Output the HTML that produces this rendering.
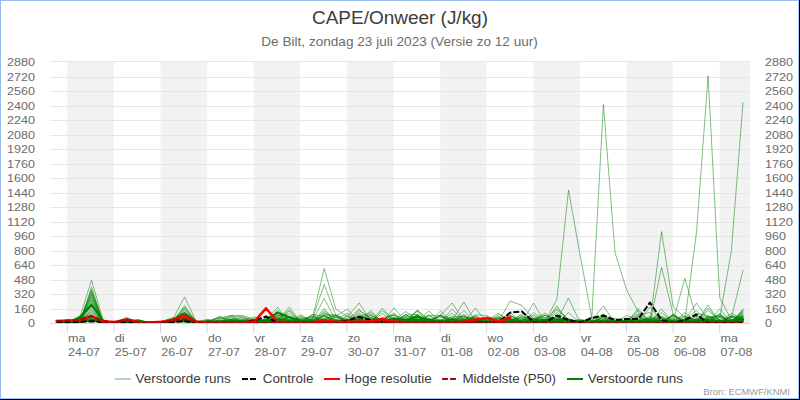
<!DOCTYPE html><html><head><meta charset="utf-8"><style>html,body{margin:0;padding:0;background:#fff;overflow:hidden}svg{display:block}text{font-family:"Liberation Sans",sans-serif}</style></head><body>
<svg width="800" height="400" viewBox="0 0 800 400">
<rect x="0" y="0" width="800" height="400" fill="#fff"/>
<rect x="67.30" y="61.5" width="46.60" height="262.0" fill="#f2f2f2"/>
<rect x="160.50" y="61.5" width="46.60" height="262.0" fill="#f2f2f2"/>
<rect x="253.70" y="61.5" width="46.60" height="262.0" fill="#f2f2f2"/>
<rect x="346.90" y="61.5" width="46.60" height="262.0" fill="#f2f2f2"/>
<rect x="440.10" y="61.5" width="46.60" height="262.0" fill="#f2f2f2"/>
<rect x="533.30" y="61.5" width="46.60" height="262.0" fill="#f2f2f2"/>
<rect x="626.50" y="61.5" width="46.60" height="262.0" fill="#f2f2f2"/>
<rect x="719.70" y="61.5" width="30.30" height="262.0" fill="#f2f2f2"/>
<rect x="50" y="323" width="700" height="1" fill="#e6e6e6"/>
<rect x="50" y="309" width="700" height="1" fill="#e6e6e6"/>
<rect x="50" y="294" width="700" height="1" fill="#e6e6e6"/>
<rect x="50" y="280" width="700" height="1" fill="#e6e6e6"/>
<rect x="50" y="265" width="700" height="1" fill="#e6e6e6"/>
<rect x="50" y="251" width="700" height="1" fill="#e6e6e6"/>
<rect x="50" y="236" width="700" height="1" fill="#e6e6e6"/>
<rect x="50" y="222" width="700" height="1" fill="#e6e6e6"/>
<rect x="50" y="207" width="700" height="1" fill="#e6e6e6"/>
<rect x="50" y="193" width="700" height="1" fill="#e6e6e6"/>
<rect x="50" y="178" width="700" height="1" fill="#e6e6e6"/>
<rect x="50" y="164" width="700" height="1" fill="#e6e6e6"/>
<rect x="50" y="149" width="700" height="1" fill="#e6e6e6"/>
<rect x="50" y="135" width="700" height="1" fill="#e6e6e6"/>
<rect x="50" y="120" width="700" height="1" fill="#e6e6e6"/>
<rect x="50" y="106" width="700" height="1" fill="#e6e6e6"/>
<rect x="50" y="91" width="700" height="1" fill="#e6e6e6"/>
<rect x="50" y="77" width="700" height="1" fill="#e6e6e6"/>
<rect x="50" y="61" width="700" height="1" fill="#e6e6e6"/>
<text x="28.00" y="327.00" font-size="11.33" fill="#6c6c6c" textLength="7.00" lengthAdjust="spacingAndGlyphs">0</text>
<text x="765.00" y="327.00" font-size="11.33" fill="#6c6c6c" textLength="7.00" lengthAdjust="spacingAndGlyphs">0</text>
<text x="14.00" y="313.00" font-size="11.33" fill="#6c6c6c" textLength="21.00" lengthAdjust="spacingAndGlyphs">160</text>
<text x="765.00" y="313.00" font-size="11.33" fill="#6c6c6c" textLength="21.00" lengthAdjust="spacingAndGlyphs">160</text>
<text x="14.00" y="298.00" font-size="11.33" fill="#6c6c6c" textLength="21.00" lengthAdjust="spacingAndGlyphs">320</text>
<text x="765.00" y="298.00" font-size="11.33" fill="#6c6c6c" textLength="21.00" lengthAdjust="spacingAndGlyphs">320</text>
<text x="14.00" y="284.00" font-size="11.33" fill="#6c6c6c" textLength="21.00" lengthAdjust="spacingAndGlyphs">480</text>
<text x="765.00" y="284.00" font-size="11.33" fill="#6c6c6c" textLength="21.00" lengthAdjust="spacingAndGlyphs">480</text>
<text x="14.00" y="269.00" font-size="11.33" fill="#6c6c6c" textLength="21.00" lengthAdjust="spacingAndGlyphs">640</text>
<text x="765.00" y="269.00" font-size="11.33" fill="#6c6c6c" textLength="21.00" lengthAdjust="spacingAndGlyphs">640</text>
<text x="14.00" y="255.00" font-size="11.33" fill="#6c6c6c" textLength="21.00" lengthAdjust="spacingAndGlyphs">800</text>
<text x="765.00" y="255.00" font-size="11.33" fill="#6c6c6c" textLength="21.00" lengthAdjust="spacingAndGlyphs">800</text>
<text x="14.00" y="240.00" font-size="11.33" fill="#6c6c6c" textLength="21.00" lengthAdjust="spacingAndGlyphs">960</text>
<text x="765.00" y="240.00" font-size="11.33" fill="#6c6c6c" textLength="21.00" lengthAdjust="spacingAndGlyphs">960</text>
<text x="7.01" y="226.00" font-size="11.33" fill="#6c6c6c" textLength="27.99" lengthAdjust="spacingAndGlyphs">1120</text>
<text x="765.00" y="226.00" font-size="11.33" fill="#6c6c6c" textLength="27.99" lengthAdjust="spacingAndGlyphs">1120</text>
<text x="7.01" y="211.00" font-size="11.33" fill="#6c6c6c" textLength="27.99" lengthAdjust="spacingAndGlyphs">1280</text>
<text x="765.00" y="211.00" font-size="11.33" fill="#6c6c6c" textLength="27.99" lengthAdjust="spacingAndGlyphs">1280</text>
<text x="7.01" y="197.00" font-size="11.33" fill="#6c6c6c" textLength="27.99" lengthAdjust="spacingAndGlyphs">1440</text>
<text x="765.00" y="197.00" font-size="11.33" fill="#6c6c6c" textLength="27.99" lengthAdjust="spacingAndGlyphs">1440</text>
<text x="7.01" y="182.00" font-size="11.33" fill="#6c6c6c" textLength="27.99" lengthAdjust="spacingAndGlyphs">1600</text>
<text x="765.00" y="182.00" font-size="11.33" fill="#6c6c6c" textLength="27.99" lengthAdjust="spacingAndGlyphs">1600</text>
<text x="7.01" y="168.00" font-size="11.33" fill="#6c6c6c" textLength="27.99" lengthAdjust="spacingAndGlyphs">1760</text>
<text x="765.00" y="168.00" font-size="11.33" fill="#6c6c6c" textLength="27.99" lengthAdjust="spacingAndGlyphs">1760</text>
<text x="7.01" y="153.00" font-size="11.33" fill="#6c6c6c" textLength="27.99" lengthAdjust="spacingAndGlyphs">1920</text>
<text x="765.00" y="153.00" font-size="11.33" fill="#6c6c6c" textLength="27.99" lengthAdjust="spacingAndGlyphs">1920</text>
<text x="7.01" y="139.00" font-size="11.33" fill="#6c6c6c" textLength="27.99" lengthAdjust="spacingAndGlyphs">2080</text>
<text x="765.00" y="139.00" font-size="11.33" fill="#6c6c6c" textLength="27.99" lengthAdjust="spacingAndGlyphs">2080</text>
<text x="7.01" y="124.00" font-size="11.33" fill="#6c6c6c" textLength="27.99" lengthAdjust="spacingAndGlyphs">2240</text>
<text x="765.00" y="124.00" font-size="11.33" fill="#6c6c6c" textLength="27.99" lengthAdjust="spacingAndGlyphs">2240</text>
<text x="7.01" y="110.00" font-size="11.33" fill="#6c6c6c" textLength="27.99" lengthAdjust="spacingAndGlyphs">2400</text>
<text x="765.00" y="110.00" font-size="11.33" fill="#6c6c6c" textLength="27.99" lengthAdjust="spacingAndGlyphs">2400</text>
<text x="7.01" y="95.00" font-size="11.33" fill="#6c6c6c" textLength="27.99" lengthAdjust="spacingAndGlyphs">2560</text>
<text x="765.00" y="95.00" font-size="11.33" fill="#6c6c6c" textLength="27.99" lengthAdjust="spacingAndGlyphs">2560</text>
<text x="7.01" y="81.00" font-size="11.33" fill="#6c6c6c" textLength="27.99" lengthAdjust="spacingAndGlyphs">2720</text>
<text x="765.00" y="81.00" font-size="11.33" fill="#6c6c6c" textLength="27.99" lengthAdjust="spacingAndGlyphs">2720</text>
<text x="7.01" y="66.00" font-size="11.33" fill="#6c6c6c" textLength="27.99" lengthAdjust="spacingAndGlyphs">2880</text>
<text x="765.00" y="66.00" font-size="11.33" fill="#6c6c6c" textLength="27.99" lengthAdjust="spacingAndGlyphs">2880</text>
<g fill="none" stroke-linejoin="round" stroke-linecap="round">
<polyline points="56.60,323.05 68.23,321.00 79.87,322.11 91.50,317.13 103.14,321.90 114.77,323.04 126.40,320.89 138.04,322.43 149.67,322.04 161.31,322.66 172.94,320.20 184.57,318.51 196.21,322.11 207.84,322.48 219.48,322.57 231.11,322.03 242.74,322.24 254.38,320.27 266.01,321.83 277.65,321.88 289.28,319.83 300.91,319.74 312.55,316.22 324.18,322.44 335.82,322.59 347.45,321.64 359.08,319.47 370.72,317.39 382.35,322.56 393.99,321.45 405.62,321.60 417.25,319.11 428.89,321.80 440.52,315.54 452.16,322.28 463.79,315.19 475.42,322.45 487.06,322.89 498.69,321.75 510.33,315.68 521.96,322.09 533.59,321.77 545.23,321.24 556.86,299.48 568.50,190.13 580.13,255.27 591.76,318.04 603.40,104.62 615.03,252.63 626.67,290.02 638.30,312.04 649.93,322.10 661.57,321.80 673.20,322.98 684.84,321.97 696.47,319.94 708.10,322.54 719.74,319.90 731.37,322.58 743.01,318.04" stroke="rgba(0,128,0,0.5)" stroke-width="1"/>
<polyline points="56.60,323.04 68.23,322.00 79.87,322.13 91.50,310.31 103.14,322.59 114.77,323.05 126.40,322.04 138.04,321.39 149.67,322.50 161.31,322.32 172.94,321.68 184.57,321.52 196.21,322.59 207.84,322.55 219.48,322.59 231.11,322.50 242.74,322.58 254.38,322.17 266.01,321.24 277.65,319.48 289.28,322.09 300.91,316.15 312.55,320.19 324.18,322.49 335.82,322.59 347.45,322.57 359.08,318.81 370.72,315.74 382.35,320.05 393.99,322.59 405.62,321.88 417.25,321.44 428.89,322.21 440.52,321.13 452.16,322.14 463.79,317.08 475.42,318.82 487.06,320.43 498.69,313.04 510.33,322.27 521.96,319.05 533.59,322.13 545.23,320.62 556.86,322.34 568.50,321.47 580.13,321.94 591.76,322.87 603.40,314.04 615.03,322.67 626.67,322.99 638.30,308.49 649.93,322.59 661.57,231.62 673.20,307.12 684.84,317.31 696.47,320.15 708.10,320.00 719.74,322.49 731.37,316.39 743.01,319.10" stroke="rgba(0,128,0,0.5)" stroke-width="1"/>
<polyline points="56.60,323.05 68.23,321.32 79.87,321.57 91.50,291.02 103.14,321.84 114.77,323.04 126.40,320.62 138.04,321.43 149.67,322.77 161.31,322.30 172.94,321.31 184.57,321.61 196.21,322.33 207.84,322.63 219.48,321.86 231.11,322.57 242.74,321.44 254.38,322.10 266.01,321.54 277.65,322.44 289.28,322.32 300.91,322.59 312.55,321.73 324.18,322.39 335.82,322.58 347.45,319.79 359.08,322.57 370.72,322.59 382.35,320.10 393.99,322.47 405.62,322.45 417.25,318.68 428.89,320.31 440.52,320.70 452.16,322.41 463.79,322.55 475.42,314.87 487.06,315.57 498.69,322.27 510.33,320.49 521.96,322.35 533.59,318.60 545.23,322.38 556.86,322.50 568.50,319.87 580.13,323.03 591.76,323.03 603.40,320.79 615.03,322.15 626.67,323.05 638.30,321.63 649.93,319.54 661.57,321.86 673.20,323.04 684.84,320.77 696.47,232.53 708.10,75.87 719.74,297.57 731.37,319.86 743.01,319.54" stroke="rgba(0,128,0,0.5)" stroke-width="1"/>
<polyline points="56.60,322.99 68.23,322.77 79.87,319.25 91.50,320.52 103.14,322.01 114.77,323.00 126.40,322.13 138.04,322.37 149.67,322.76 161.31,322.67 172.94,321.64 184.57,321.62 196.21,321.49 207.84,319.41 219.48,322.59 231.11,322.21 242.74,322.48 254.38,321.87 266.01,320.75 277.65,321.67 289.28,322.58 300.91,321.80 312.55,316.74 324.18,319.44 335.82,322.59 347.45,320.12 359.08,319.89 370.72,322.59 382.35,321.96 393.99,321.34 405.62,320.91 417.25,321.45 428.89,322.59 440.52,319.27 452.16,321.93 463.79,318.71 475.42,318.12 487.06,322.83 498.69,323.04 510.33,319.80 521.96,317.74 533.59,322.57 545.23,322.12 556.86,320.15 568.50,320.51 580.13,322.27 591.76,322.72 603.40,322.26 615.03,323.01 626.67,321.55 638.30,321.52 649.93,322.47 661.57,309.04 673.20,323.00 684.84,320.96 696.47,322.03 708.10,320.03 719.74,318.04 731.37,250.72 743.01,102.71" stroke="rgba(0,128,0,0.5)" stroke-width="1"/>
<polyline points="56.60,322.45 68.23,321.53 79.87,321.97 91.50,319.35 103.14,321.60 114.77,323.04 126.40,321.76 138.04,322.74 149.67,322.75 161.31,322.46 172.94,321.11 184.57,321.65 196.21,322.74 207.84,323.04 219.48,321.67 231.11,320.90 242.74,321.81 254.38,322.29 266.01,321.28 277.65,321.88 289.28,321.68 300.91,321.92 312.55,319.87 324.18,322.50 335.82,319.57 347.45,321.88 359.08,322.44 370.72,314.65 382.35,322.59 393.99,322.13 405.62,322.28 417.25,320.37 428.89,315.76 440.52,322.22 452.16,322.57 463.79,314.40 475.42,322.18 487.06,323.03 498.69,320.77 510.33,301.03 521.96,305.49 533.59,318.95 545.23,321.50 556.86,310.04 568.50,319.38 580.13,321.55 591.76,322.90 603.40,316.92 615.03,322.47 626.67,322.43 638.30,321.14 649.93,322.59 661.57,321.99 673.20,323.04 684.84,321.88 696.47,322.58 708.10,318.85 719.74,320.93 731.37,320.22 743.01,319.99" stroke="rgba(0,128,0,0.5)" stroke-width="1"/>
<polyline points="56.60,321.57 68.23,322.70 79.87,316.68 91.50,320.18 103.14,322.46 114.77,323.04 126.40,322.09 138.04,322.73 149.67,322.30 161.31,322.51 172.94,321.53 184.57,321.66 196.21,322.73 207.84,321.68 219.48,318.04 231.11,315.40 242.74,315.40 254.38,319.86 266.01,321.25 277.65,318.62 289.28,322.58 300.91,314.45 312.55,322.38 324.18,322.39 335.82,322.57 347.45,320.55 359.08,321.19 370.72,322.56 382.35,319.54 393.99,319.99 405.62,316.34 417.25,316.62 428.89,320.77 440.52,315.38 452.16,318.63 463.79,316.77 475.42,320.23 487.06,323.04 498.69,321.72 510.33,322.47 521.96,321.83 533.59,321.68 545.23,322.19 556.86,320.47 568.50,322.59 580.13,321.47 591.76,321.84 603.40,321.87 615.03,321.79 626.67,322.57 638.30,322.59 649.93,321.22 661.57,322.47 673.20,322.59 684.84,322.91 696.47,318.20 708.10,322.59 719.74,320.59 731.37,322.05 743.01,318.88" stroke="rgba(0,128,0,0.5)" stroke-width="1"/>
<polyline points="56.60,322.51 68.23,319.50 79.87,322.10 91.50,318.80 103.14,322.55 114.77,322.79 126.40,321.25 138.04,322.34 149.67,322.55 161.31,322.03 172.94,321.01 184.57,321.51 196.21,322.77 207.84,322.14 219.48,319.41 231.11,316.22 242.74,316.68 254.38,320.77 266.01,322.49 277.65,322.47 289.28,320.30 300.91,321.51 312.55,321.96 324.18,316.50 335.82,321.41 347.45,322.58 359.08,321.04 370.72,321.45 382.35,319.85 393.99,322.25 405.62,322.54 417.25,322.14 428.89,322.58 440.52,321.90 452.16,316.74 463.79,322.59 475.42,320.54 487.06,321.00 498.69,323.04 510.33,320.70 521.96,320.69 533.59,319.29 545.23,317.45 556.86,320.60 568.50,321.36 580.13,322.83 591.76,322.80 603.40,322.26 615.03,322.99 626.67,322.83 638.30,322.37 649.93,320.52 661.57,322.59 673.20,322.47 684.84,319.86 696.47,320.22 708.10,322.53 719.74,322.38 731.37,322.59 743.01,313.49" stroke="rgba(0,128,0,0.5)" stroke-width="1"/>
<polyline points="56.60,322.94 68.23,322.16 79.87,322.13 91.50,319.54 103.14,321.81 114.77,322.22 126.40,320.62 138.04,322.77 149.67,322.69 161.31,322.77 172.94,320.64 184.57,321.40 196.21,322.40 207.84,322.97 219.48,322.53 231.11,322.58 242.74,322.47 254.38,322.23 266.01,321.34 277.65,322.59 289.28,320.89 300.91,322.07 312.55,321.65 324.18,320.52 335.82,321.80 347.45,321.56 359.08,322.47 370.72,322.54 382.35,322.45 393.99,322.55 405.62,322.39 417.25,322.13 428.89,318.25 440.52,322.59 452.16,322.58 463.79,310.49 475.42,322.27 487.06,322.94 498.69,322.62 510.33,322.51 521.96,322.59 533.59,320.24 545.23,315.48 556.86,322.57 568.50,322.38 580.13,322.87 591.76,322.77 603.40,322.58 615.03,321.95 626.67,323.03 638.30,316.47 649.93,323.05 661.57,267.37 673.20,314.31 684.84,321.40 696.47,321.21 708.10,310.49 719.74,320.53 731.37,322.59 743.01,317.86" stroke="rgba(0,128,0,0.5)" stroke-width="1"/>
<polyline points="56.60,322.59 68.23,322.23 79.87,322.06 91.50,289.66 103.14,322.59 114.77,323.04 126.40,321.83 138.04,322.31 149.67,322.56 161.31,322.09 172.94,319.13 184.57,317.44 196.21,322.76 207.84,322.57 219.48,322.58 231.11,319.58 242.74,317.50 254.38,322.44 266.01,322.58 277.65,318.92 289.28,318.83 300.91,321.94 312.55,321.49 324.18,312.04 335.82,322.58 347.45,315.13 359.08,322.50 370.72,322.50 382.35,322.59 393.99,318.29 405.62,322.36 417.25,322.13 428.89,322.04 440.52,322.57 452.16,322.57 463.79,322.59 475.42,321.96 487.06,322.05 498.69,317.66 510.33,319.92 521.96,315.23 533.59,322.49 545.23,322.25 556.86,320.91 568.50,321.97 580.13,321.36 591.76,322.99 603.40,317.09 615.03,323.02 626.67,322.14 638.30,321.70 649.93,322.17 661.57,316.58 673.20,320.77 684.84,278.38 696.47,318.04 708.10,322.05 719.74,322.53 731.37,322.57 743.01,320.22" stroke="rgba(0,128,0,0.5)" stroke-width="1"/>
<polyline points="56.60,321.18 68.23,320.70 79.87,322.09 91.50,318.91 103.14,322.56 114.77,323.01 126.40,322.06 138.04,322.77 149.67,322.76 161.31,322.54 172.94,321.66 184.57,320.57 196.21,322.77 207.84,320.82 219.48,322.52 231.11,322.36 242.74,320.76 254.38,320.12 266.01,319.94 277.65,320.36 289.28,307.22 300.91,322.37 312.55,318.04 324.18,268.46 335.82,309.04 347.45,316.50 359.08,303.03 370.72,320.73 382.35,319.75 393.99,321.91 405.62,321.76 417.25,322.06 428.89,322.58 440.52,321.23 452.16,321.71 463.79,320.06 475.42,321.77 487.06,322.95 498.69,322.43 510.33,320.01 521.96,322.58 533.59,321.47 545.23,321.98 556.86,319.60 568.50,321.80 580.13,321.38 591.76,323.04 603.40,319.78 615.03,319.86 626.67,322.94 638.30,322.37 649.93,322.53 661.57,321.41 673.20,314.80 684.84,320.88 696.47,322.56 708.10,322.48 719.74,322.53 731.37,322.20 743.01,315.31" stroke="rgba(0,128,0,0.5)" stroke-width="1"/>
<polyline points="56.60,323.04 68.23,321.69 79.87,319.85 91.50,297.03 103.14,322.01 114.77,322.86 126.40,322.08 138.04,320.96 149.67,322.33 161.31,322.76 172.94,321.65 184.57,320.01 196.21,322.74 207.84,322.44 219.48,319.84 231.11,322.18 242.74,321.70 254.38,321.96 266.01,322.56 277.65,321.81 289.28,322.45 300.91,319.67 312.55,318.95 324.18,284.47 335.82,315.31 347.45,320.95 359.08,322.58 370.72,310.49 382.35,322.59 393.99,322.59 405.62,315.08 417.25,319.36 428.89,321.23 440.52,315.31 452.16,322.23 463.79,321.67 475.42,322.59 487.06,322.15 498.69,321.52 510.33,321.45 521.96,322.28 533.59,321.43 545.23,322.59 556.86,322.59 568.50,321.29 580.13,323.05 591.76,321.32 603.40,318.41 615.03,322.95 626.67,323.04 638.30,322.46 649.93,321.23 661.57,321.51 673.20,322.22 684.84,320.08 696.47,322.03 708.10,319.27 719.74,322.47 731.37,321.65 743.01,309.85" stroke="rgba(0,128,0,0.5)" stroke-width="1"/>
<polyline points="56.60,320.23 68.23,322.46 79.87,317.13 91.50,280.20 103.14,320.23 114.77,322.98 126.40,321.14 138.04,322.71 149.67,322.77 161.31,322.77 172.94,321.60 184.57,321.54 196.21,322.68 207.84,319.86 219.48,322.58 231.11,321.81 242.74,322.45 254.38,320.57 266.01,322.55 277.65,322.52 289.28,316.16 300.91,322.57 312.55,321.86 324.18,315.66 335.82,322.02 347.45,322.42 359.08,321.49 370.72,319.62 382.35,320.21 393.99,313.04 405.62,321.85 417.25,321.62 428.89,321.29 440.52,322.57 452.16,319.78 463.79,321.91 475.42,322.59 487.06,322.88 498.69,323.03 510.33,320.65 521.96,316.59 533.59,321.23 545.23,320.27 556.86,316.67 568.50,321.60 580.13,322.97 591.76,322.72 603.40,319.85 615.03,321.85 626.67,320.55 638.30,322.52 649.93,321.14 661.57,322.59 673.20,314.31 684.84,322.95 696.47,313.49 708.10,315.58 719.74,322.30 731.37,321.64 743.01,317.13" stroke="rgba(0,128,0,0.5)" stroke-width="1"/>
<polyline points="56.60,322.86 68.23,322.77 79.87,321.83 91.50,306.22 103.14,321.62 114.77,322.92 126.40,322.01 138.04,322.77 149.67,322.77 161.31,322.53 172.94,318.95 184.57,296.94 196.21,321.23 207.84,321.56 219.48,322.24 231.11,319.47 242.74,321.21 254.38,322.51 266.01,322.19 277.65,317.50 289.28,322.27 300.91,322.57 312.55,318.96 324.18,319.24 335.82,321.39 347.45,322.27 359.08,317.82 370.72,322.48 382.35,313.49 393.99,321.62 405.62,321.66 417.25,316.81 428.89,321.65 440.52,322.56 452.16,309.04 463.79,320.90 475.42,322.05 487.06,322.82 498.69,322.30 510.33,321.13 521.96,321.49 533.59,312.58 545.23,320.61 556.86,322.40 568.50,319.12 580.13,323.05 591.76,321.78 603.40,322.10 615.03,323.01 626.67,322.57 638.30,322.10 649.93,320.90 661.57,319.99 673.20,322.81 684.84,323.02 696.47,322.58 708.10,320.70 719.74,321.34 731.37,322.57 743.01,311.67" stroke="rgba(0,128,0,0.5)" stroke-width="1"/>
<polyline points="56.60,322.68 68.23,321.83 79.87,322.13 91.50,319.86 103.14,322.58 114.77,322.53 126.40,322.06 138.04,322.77 149.67,322.34 161.31,322.49 172.94,319.91 184.57,320.21 196.21,322.51 207.84,322.81 219.48,320.52 231.11,322.40 242.74,322.47 254.38,321.04 266.01,322.55 277.65,320.95 289.28,316.54 300.91,320.39 312.55,321.97 324.18,321.98 335.82,320.68 347.45,322.55 359.08,310.49 370.72,317.84 382.35,319.34 393.99,321.23 405.62,319.50 417.25,319.50 428.89,322.58 440.52,322.36 452.16,318.85 463.79,320.09 475.42,322.55 487.06,318.64 498.69,317.13 510.33,322.59 521.96,322.59 533.59,319.93 545.23,315.31 556.86,319.28 568.50,319.57 580.13,322.27 591.76,322.86 603.40,314.56 615.03,323.04 626.67,322.34 638.30,322.30 649.93,322.39 661.57,322.41 673.20,316.22 684.84,323.02 696.47,322.30 708.10,320.50 719.74,320.80 731.37,318.04 743.01,270.28" stroke="rgba(0,128,0,0.5)" stroke-width="1"/>
<polyline points="56.60,322.32 68.23,322.75 79.87,321.65 91.50,319.36 103.14,322.46 114.77,323.05 126.40,321.74 138.04,322.34 149.67,322.77 161.31,322.63 172.94,321.66 184.57,320.88 196.21,322.60 207.84,322.88 219.48,322.47 231.11,319.50 242.74,320.51 254.38,322.54 266.01,322.47 277.65,322.29 289.28,321.15 300.91,321.48 312.55,322.49 324.18,319.93 335.82,320.80 347.45,322.53 359.08,322.58 370.72,321.99 382.35,322.59 393.99,321.24 405.62,314.79 417.25,314.40 428.89,320.75 440.52,322.53 452.16,318.88 463.79,322.34 475.42,322.57 487.06,323.03 498.69,319.88 510.33,322.56 521.96,320.01 533.59,319.32 545.23,321.60 556.86,322.19 568.50,322.37 580.13,323.03 591.76,323.04 603.40,320.13 615.03,321.17 626.67,320.99 638.30,313.49 649.93,322.58 661.57,322.44 673.20,315.89 684.84,321.66 696.47,322.58 708.10,317.78 719.74,316.44 731.37,320.03 743.01,319.05" stroke="rgba(0,128,0,0.5)" stroke-width="1"/>
<polyline points="56.60,323.03 68.23,321.69 79.87,322.13 91.50,320.77 103.14,322.57 114.77,322.87 126.40,318.77 138.04,322.75 149.67,322.77 161.31,322.70 172.94,321.11 184.57,320.95 196.21,322.75 207.84,322.78 219.48,321.68 231.11,321.84 242.74,320.95 254.38,319.91 266.01,322.49 277.65,315.48 289.28,320.91 300.91,321.19 312.55,321.81 324.18,322.59 335.82,320.15 347.45,322.18 359.08,322.36 370.72,321.38 382.35,322.22 393.99,317.18 405.62,321.87 417.25,315.40 428.89,322.59 440.52,311.04 452.16,321.89 463.79,319.35 475.42,322.56 487.06,322.37 498.69,321.44 510.33,312.58 521.96,322.43 533.59,320.68 545.23,322.58 556.86,322.37 568.50,322.06 580.13,319.04 591.76,321.98 603.40,321.47 615.03,322.97 626.67,322.46 638.30,322.41 649.93,307.03 661.57,321.79 673.20,323.03 684.84,319.07 696.47,319.51 708.10,322.51 719.74,322.59 731.37,322.41 743.01,318.65" stroke="rgba(0,128,0,0.5)" stroke-width="1"/>
<polyline points="56.60,322.56 68.23,322.76 79.87,322.12 91.50,298.48 103.14,322.20 114.77,322.59 126.40,322.05 138.04,322.30 149.67,322.75 161.31,322.28 172.94,321.61 184.57,317.61 196.21,322.77 207.84,322.73 219.48,322.59 231.11,322.58 242.74,322.58 254.38,321.68 266.01,319.94 277.65,307.22 289.28,321.81 300.91,322.49 312.55,322.59 324.18,321.50 335.82,322.59 347.45,322.56 359.08,320.81 370.72,322.58 382.35,319.62 393.99,318.55 405.62,322.28 417.25,322.14 428.89,322.49 440.52,322.44 452.16,322.17 463.79,320.02 475.42,321.97 487.06,323.05 498.69,323.00 510.33,322.37 521.96,322.57 533.59,319.84 545.23,314.85 556.86,322.17 568.50,320.19 580.13,321.67 591.76,323.04 603.40,322.54 615.03,322.35 626.67,323.05 638.30,321.25 649.93,322.17 661.57,320.32 673.20,323.00 684.84,323.01 696.47,322.59 708.10,322.54 719.74,322.54 731.37,322.55 743.01,321.68" stroke="rgba(0,128,0,0.5)" stroke-width="1"/>
<polyline points="56.60,323.05 68.23,321.95 79.87,322.14 91.50,319.64 103.14,321.90 114.77,322.76 126.40,317.50 138.04,321.57 149.67,322.75 161.31,321.73 172.94,321.20 184.57,321.06 196.21,321.88 207.84,323.02 219.48,320.49 231.11,321.84 242.74,322.59 254.38,322.18 266.01,322.45 277.65,315.93 289.28,314.04 300.91,320.78 312.55,322.58 324.18,322.28 335.82,321.93 347.45,321.07 359.08,322.58 370.72,321.10 382.35,318.57 393.99,315.31 405.62,320.88 417.25,320.15 428.89,321.40 440.52,322.57 452.16,321.40 463.79,322.00 475.42,321.99 487.06,321.37 498.69,322.26 510.33,322.32 521.96,321.92 533.59,319.63 545.23,322.57 556.86,321.89 568.50,322.12 580.13,321.25 591.76,322.67 603.40,322.58 615.03,323.04 626.67,315.31 638.30,320.52 649.93,322.52 661.57,322.45 673.20,322.99 684.84,322.25 696.47,322.16 708.10,318.61 719.74,322.57 731.37,316.16 743.01,316.83" stroke="rgba(0,128,0,0.5)" stroke-width="1"/>
<polyline points="56.60,323.03 68.23,322.77 79.87,321.59 91.50,319.13 103.14,322.18 114.77,322.94 126.40,322.12 138.04,321.67 149.67,322.77 161.31,322.36 172.94,321.55 184.57,321.65 196.21,322.77 207.84,320.84 219.48,322.42 231.11,322.56 242.74,322.56 254.38,322.58 266.01,320.72 277.65,322.33 289.28,321.98 300.91,322.57 312.55,322.39 324.18,321.83 335.82,317.13 347.45,321.69 359.08,321.91 370.72,322.49 382.35,310.49 393.99,320.20 405.62,311.49 417.25,319.66 428.89,322.56 440.52,322.54 452.16,320.05 463.79,320.58 475.42,318.04 487.06,323.00 498.69,322.93 510.33,320.04 521.96,322.01 533.59,321.77 545.23,322.55 556.86,322.59 568.50,312.58 580.13,323.02 591.76,322.48 603.40,322.55 615.03,323.03 626.67,323.02 638.30,315.80 649.93,322.44 661.57,322.56 673.20,322.13 684.84,322.65 696.47,322.45 708.10,321.68 719.74,321.92 731.37,322.32 743.01,316.22" stroke="rgba(0,128,0,0.5)" stroke-width="1"/>
<polyline points="56.60,322.63 68.23,322.77 79.87,322.01 91.50,318.83 103.14,322.53 114.77,322.48 126.40,318.04 138.04,322.64 149.67,322.45 161.31,322.77 172.94,321.36 184.57,321.49 196.21,320.95 207.84,322.94 219.48,322.43 231.11,322.51 242.74,322.07 254.38,322.58 266.01,322.43 277.65,320.80 289.28,322.26 300.91,322.56 312.55,314.42 324.18,316.81 335.82,321.83 347.45,322.33 359.08,314.40 370.72,322.53 382.35,321.75 393.99,322.02 405.62,317.68 417.25,320.91 428.89,318.15 440.52,322.07 452.16,318.64 463.79,322.53 475.42,322.58 487.06,322.46 498.69,322.87 510.33,322.26 521.96,322.57 533.59,319.15 545.23,319.44 556.86,308.49 568.50,319.18 580.13,321.69 591.76,323.00 603.40,322.29 615.03,322.36 626.67,322.56 638.30,320.64 649.93,321.91 661.57,321.68 673.20,320.38 684.84,323.04 696.47,319.11 708.10,322.30 719.74,319.78 731.37,322.12 743.01,321.44" stroke="rgba(0,128,0,0.5)" stroke-width="1"/>
<polyline points="56.60,323.04 68.23,321.15 79.87,318.04 91.50,299.85 103.14,322.51 114.77,322.36 126.40,320.60 138.04,322.77 149.67,322.76 161.31,322.17 172.94,321.67 184.57,315.31 196.21,322.72 207.84,322.62 219.48,322.59 231.11,322.58 242.74,320.83 254.38,322.53 266.01,318.95 277.65,322.58 289.28,322.59 300.91,317.04 312.55,322.48 324.18,322.59 335.82,322.41 347.45,320.15 359.08,318.87 370.72,322.57 382.35,322.57 393.99,320.40 405.62,322.59 417.25,322.13 428.89,321.99 440.52,321.96 452.16,321.14 463.79,322.59 475.42,322.51 487.06,320.89 498.69,321.95 510.33,321.25 521.96,322.59 533.59,322.14 545.23,322.59 556.86,321.11 568.50,320.03 580.13,322.80 591.76,322.70 603.40,320.18 615.03,323.02 626.67,321.43 638.30,320.16 649.93,319.64 661.57,320.32 673.20,319.93 684.84,315.69 696.47,321.65 708.10,321.96 719.74,320.40 731.37,322.14 743.01,318.63" stroke="rgba(0,128,0,0.5)" stroke-width="1"/>
<polyline points="56.60,322.65 68.23,321.98 79.87,321.94 91.50,295.48 103.14,321.91 114.77,322.50 126.40,321.72 138.04,321.88 149.67,322.71 161.31,322.71 172.94,319.70 184.57,316.22 196.21,322.76 207.84,322.37 219.48,320.44 231.11,320.98 242.74,319.80 254.38,322.08 266.01,322.16 277.65,321.91 289.28,322.59 300.91,319.97 312.55,322.59 324.18,322.41 335.82,322.55 347.45,316.50 359.08,322.57 370.72,322.17 382.35,322.59 393.99,322.58 405.62,322.59 417.25,321.62 428.89,322.51 440.52,321.89 452.16,316.67 463.79,316.48 475.42,322.59 487.06,323.04 498.69,322.00 510.33,318.45 521.96,322.39 533.59,321.41 545.23,321.04 556.86,321.53 568.50,321.27 580.13,321.86 591.76,318.95 603.40,322.44 615.03,322.63 626.67,320.53 638.30,322.15 649.93,321.75 661.57,322.13 673.20,320.20 684.84,322.19 696.47,322.51 708.10,322.40 719.74,322.09 731.37,322.59 743.01,321.34" stroke="rgba(0,128,0,0.5)" stroke-width="1"/>
<polyline points="56.60,323.04 68.23,322.03 79.87,320.71 91.50,320.59 103.14,322.55 114.77,322.96 126.40,321.14 138.04,322.45 149.67,322.77 161.31,322.77 172.94,321.54 184.57,321.57 196.21,322.77 207.84,323.03 219.48,321.96 231.11,319.74 242.74,322.52 254.38,322.54 266.01,320.53 277.65,322.59 289.28,322.11 300.91,321.74 312.55,320.89 324.18,298.48 335.82,320.53 347.45,321.84 359.08,322.57 370.72,322.10 382.35,320.93 393.99,322.59 405.62,322.44 417.25,315.75 428.89,322.59 440.52,322.59 452.16,319.72 463.79,322.59 475.42,308.03 487.06,322.98 498.69,322.96 510.33,322.59 521.96,316.49 533.59,319.01 545.23,322.36 556.86,322.06 568.50,322.59 580.13,321.23 591.76,322.83 603.40,321.40 615.03,323.05 626.67,323.04 638.30,322.23 649.93,321.91 661.57,312.58 673.20,322.59 684.84,323.03 696.47,321.34 708.10,322.09 719.74,322.46 731.37,319.63 743.01,316.11" stroke="rgba(0,128,0,0.5)" stroke-width="1"/>
<polyline points="56.60,323.02 68.23,321.48 79.87,321.28 91.50,301.48 103.14,321.95 114.77,322.57 126.40,320.42 138.04,322.17 149.67,322.77 161.31,322.64 172.94,320.81 184.57,320.99 196.21,322.77 207.84,320.84 219.48,317.22 231.11,321.31 242.74,322.59 254.38,320.60 266.01,322.54 277.65,322.27 289.28,311.04 300.91,322.08 312.55,318.97 324.18,321.90 335.82,321.27 347.45,322.03 359.08,322.59 370.72,322.59 382.35,318.57 393.99,314.79 405.62,322.59 417.25,322.05 428.89,315.31 440.52,320.80 452.16,321.96 463.79,319.86 475.42,320.32 487.06,323.04 498.69,322.75 510.33,322.24 521.96,322.16 533.59,322.00 545.23,322.56 556.86,319.38 568.50,321.22 580.13,323.01 591.76,323.03 603.40,322.59 615.03,322.89 626.67,322.99 638.30,321.23 649.93,318.17 661.57,317.75 673.20,323.04 684.84,322.10 696.47,322.49 708.10,322.59 719.74,322.59 731.37,321.52 743.01,312.58" stroke="rgba(0,128,0,0.5)" stroke-width="1"/>
<polyline points="56.60,321.88 68.23,322.77 79.87,322.08 91.50,320.75 103.14,322.48 114.77,323.04 126.40,322.14 138.04,322.53 149.67,322.38 161.31,322.40 172.94,321.68 184.57,309.40 196.21,321.51 207.84,322.51 219.48,321.76 231.11,322.42 242.74,322.57 254.38,322.52 266.01,322.55 277.65,310.04 289.28,320.73 300.91,320.79 312.55,322.59 324.18,322.24 335.82,321.38 347.45,322.53 359.08,315.32 370.72,320.91 382.35,320.87 393.99,322.42 405.62,321.34 417.25,321.62 428.89,322.57 440.52,315.19 452.16,303.03 463.79,320.44 475.42,315.98 487.06,322.93 498.69,318.93 510.33,319.67 521.96,322.58 533.59,322.30 545.23,319.49 556.86,322.52 568.50,319.83 580.13,323.05 591.76,317.04 603.40,321.51 615.03,321.94 626.67,321.85 638.30,320.74 649.93,321.66 661.57,321.88 673.20,315.00 684.84,323.05 696.47,321.16 708.10,322.59 719.74,321.38 731.37,322.51 743.01,316.72" stroke="rgba(0,128,0,0.5)" stroke-width="1"/>
<polyline points="56.60,322.35 68.23,321.62 79.87,321.74 91.50,292.48 103.14,322.50 114.77,323.04 126.40,321.86 138.04,322.24 149.67,322.71 161.31,322.47 172.94,321.63 184.57,321.14 196.21,321.96 207.84,323.04 219.48,322.55 231.11,322.59 242.74,321.54 254.38,320.58 266.01,322.49 277.65,322.18 289.28,316.57 300.91,319.93 312.55,322.52 324.18,322.35 335.82,322.43 347.45,322.59 359.08,316.77 370.72,312.49 382.35,322.13 393.99,322.50 405.62,320.54 417.25,310.58 428.89,319.21 440.52,321.98 452.16,319.11 463.79,318.69 475.42,321.03 487.06,318.73 498.69,322.61 510.33,320.15 521.96,322.56 533.59,316.60 545.23,322.13 556.86,317.46 568.50,322.39 580.13,322.10 591.76,322.40 603.40,321.78 615.03,321.04 626.67,320.68 638.30,321.45 649.93,318.61 661.57,322.27 673.20,322.98 684.84,320.24 696.47,303.03 708.10,319.29 719.74,322.58 731.37,322.52 743.01,316.11" stroke="rgba(0,128,0,0.5)" stroke-width="1"/>
<polyline points="56.60,320.96 68.23,320.04 79.87,321.75 91.50,320.42 103.14,320.23 114.77,322.98 126.40,319.46 138.04,322.68 149.67,322.26 161.31,322.73 172.94,320.48 184.57,321.62 196.21,321.25 207.84,322.13 219.48,322.56 231.11,320.28 242.74,320.03 254.38,322.53 266.01,318.04 277.65,321.78 289.28,322.59 300.91,321.81 312.55,321.81 324.18,319.22 335.82,314.67 347.45,320.09 359.08,309.04 370.72,321.05 382.35,319.53 393.99,322.58 405.62,319.58 417.25,322.13 428.89,322.58 440.52,320.96 452.16,313.49 463.79,322.58 475.42,322.20 487.06,317.04 498.69,320.15 510.33,318.61 521.96,322.30 533.59,303.03 545.23,322.59 556.86,321.09 568.50,322.22 580.13,320.39 591.76,320.62 603.40,321.97 615.03,322.54 626.67,323.02 638.30,321.40 649.93,318.24 661.57,321.54 673.20,322.71 684.84,321.61 696.47,316.22 708.10,322.48 719.74,314.58 731.37,322.52 743.01,321.13" stroke="rgba(0,128,0,0.5)" stroke-width="1"/>
<polyline points="56.60,321.61 68.23,322.54 79.87,322.02 91.50,319.67 103.14,321.43 114.77,322.55 126.40,320.79 138.04,320.51 149.67,322.37 161.31,322.33 172.94,321.68 184.57,308.13 196.21,322.64 207.84,321.21 219.48,322.42 231.11,320.05 242.74,320.16 254.38,321.55 266.01,322.29 277.65,321.63 289.28,322.52 300.91,322.44 312.55,321.47 324.18,321.90 335.82,317.17 347.45,322.59 359.08,319.16 370.72,322.23 382.35,317.63 393.99,322.24 405.62,322.47 417.25,321.09 428.89,311.04 440.52,322.00 452.16,319.96 463.79,302.03 475.42,321.77 487.06,321.36 498.69,322.76 510.33,320.62 521.96,322.59 533.59,321.15 545.23,322.55 556.86,322.47 568.50,321.74 580.13,322.30 591.76,321.29 603.40,319.68 615.03,322.27 626.67,320.92 638.30,310.76 649.93,320.92 661.57,320.07 673.20,322.15 684.84,321.51 696.47,321.23 708.10,308.03 719.74,321.28 731.37,320.21 743.01,321.67" stroke="rgba(0,128,0,0.5)" stroke-width="1"/>
<polyline points="56.60,320.77 68.23,322.74 79.87,320.41 91.50,320.40 103.14,320.59 114.77,323.04 126.40,322.13 138.04,319.41 149.67,322.76 161.31,322.20 172.94,321.27 184.57,319.77 196.21,322.18 207.84,321.62 219.48,321.72 231.11,322.08 242.74,322.56 254.38,322.44 266.01,322.59 277.65,321.29 289.28,322.48 300.91,322.55 312.55,322.06 324.18,322.02 335.82,322.21 347.45,322.57 359.08,322.24 370.72,322.18 382.35,322.57 393.99,308.03 405.62,321.64 417.25,320.51 428.89,319.57 440.52,322.57 452.16,321.20 463.79,321.60 475.42,320.34 487.06,323.03 498.69,320.70 510.33,322.58 521.96,322.51 533.59,321.84 545.23,319.79 556.86,321.96 568.50,322.59 580.13,322.74 591.76,322.63 603.40,321.76 615.03,320.46 626.67,322.83 638.30,322.35 649.93,322.58 661.57,318.11 673.20,323.01 684.84,320.06 696.47,322.58 708.10,321.92 719.74,322.56 731.37,322.51 743.01,321.64" stroke="rgba(0,128,0,0.5)" stroke-width="1"/>
<polyline points="56.60,322.89 68.23,322.23 79.87,318.95 91.50,294.02 103.14,322.36 114.77,323.05 126.40,319.75 138.04,322.76 149.67,322.77 161.31,321.81 172.94,317.50 184.57,321.62 196.21,322.76 207.84,321.11 219.48,318.04 231.11,321.69 242.74,322.58 254.38,318.04 266.01,322.55 277.65,319.03 289.28,310.04 300.91,322.41 312.55,321.03 324.18,318.62 335.82,315.59 347.45,321.80 359.08,321.01 370.72,321.71 382.35,322.46 393.99,321.97 405.62,319.78 417.25,315.31 428.89,321.64 440.52,321.63 452.16,318.94 463.79,322.45 475.42,316.22 487.06,322.92 498.69,321.59 510.33,320.03 521.96,318.19 533.59,322.05 545.23,319.46 556.86,322.56 568.50,322.57 580.13,320.80 591.76,321.93 603.40,322.21 615.03,323.00 626.67,322.69 638.30,321.14 649.93,320.54 661.57,322.47 673.20,323.03 684.84,323.03 696.47,321.36 708.10,322.17 719.74,309.04 731.37,322.59 743.01,320.50" stroke="rgba(0,128,0,0.5)" stroke-width="1"/>
<polyline points="56.60,321.47 68.23,322.68 79.87,322.13 91.50,287.11 103.14,322.59 114.77,323.02 126.40,321.43 138.04,320.37 149.67,322.57 161.31,322.77 172.94,321.51 184.57,306.85 196.21,322.75 207.84,323.02 219.48,322.40 231.11,322.38 242.74,321.48 254.38,321.36 266.01,322.48 277.65,321.45 289.28,322.59 300.91,318.04 312.55,320.74 324.18,322.59 335.82,322.58 347.45,321.33 359.08,319.56 370.72,321.93 382.35,322.44 393.99,322.59 405.62,318.70 417.25,320.81 428.89,320.16 440.52,320.58 452.16,322.57 463.79,322.59 475.42,320.26 487.06,322.86 498.69,314.66 510.33,320.06 521.96,321.20 533.59,321.54 545.23,320.84 556.86,319.77 568.50,319.87 580.13,323.04 591.76,320.60 603.40,306.03 615.03,322.96 626.67,321.03 638.30,322.58 649.93,316.92 661.57,322.58 673.20,322.98 684.84,323.04 696.47,322.59 708.10,305.03 719.74,322.47 731.37,322.57 743.01,320.02" stroke="rgba(0,128,0,0.5)" stroke-width="1"/>
<polyline points="56.60,323.00 68.23,322.77 79.87,321.59 91.50,320.59 103.14,322.59 114.77,323.04 126.40,321.70 138.04,321.94 149.67,322.38 161.31,322.74 172.94,320.94 184.57,321.68 196.21,321.67 207.84,322.30 219.48,321.14 231.11,322.10 242.74,321.58 254.38,322.51 266.01,321.24 277.65,319.04 289.28,322.51 300.91,321.53 312.55,321.77 324.18,308.49 335.82,322.19 347.45,321.62 359.08,322.57 370.72,322.59 382.35,321.39 393.99,322.12 405.62,322.59 417.25,311.13 428.89,322.58 440.52,322.34 452.16,321.57 463.79,322.59 475.42,322.59 487.06,319.08 498.69,322.86 510.33,322.02 521.96,313.49 533.59,319.06 545.23,313.04 556.86,322.44 568.50,319.11 580.13,323.03 591.76,322.74 603.40,322.57 615.03,322.53 626.67,322.85 638.30,322.59 649.93,322.57 661.57,321.05 673.20,322.14 684.84,323.04 696.47,322.38 708.10,316.46 719.74,316.98 731.37,322.42 743.01,321.46" stroke="rgba(0,128,0,0.5)" stroke-width="1"/>
<polyline points="56.60,321.18 68.23,322.77 79.87,319.48 91.50,315.77 103.14,322.53 114.77,322.68 126.40,321.94 138.04,321.34 149.67,322.37 161.31,322.36 172.94,320.19 184.57,320.87 196.21,322.70 207.84,323.05 219.48,322.59 231.11,320.30 242.74,321.60 254.38,322.59 266.01,322.56 277.65,319.16 289.28,321.17 300.91,321.47 312.55,314.49 324.18,322.40 335.82,321.63 347.45,322.25 359.08,319.02 370.72,321.59 382.35,322.58 393.99,321.85 405.62,321.59 417.25,314.49 428.89,322.58 440.52,320.13 452.16,322.57 463.79,322.45 475.42,320.27 487.06,322.91 498.69,321.26 510.33,319.88 521.96,322.49 533.59,321.83 545.23,320.69 556.86,322.31 568.50,322.54 580.13,323.03 591.76,322.71 603.40,322.54 615.03,322.56 626.67,322.60 638.30,322.54 649.93,320.71 661.57,322.25 673.20,323.04 684.84,322.73 696.47,322.50 708.10,322.54 719.74,317.47 731.37,322.59 743.01,321.21" stroke="rgba(0,128,0,0.5)" stroke-width="1"/>
<polyline points="56.60,323.02 68.23,322.73 79.87,322.09 91.50,314.40 103.14,322.50 114.77,323.03 126.40,320.56 138.04,322.77 149.67,322.70 161.31,322.53 172.94,318.50 184.57,321.47 196.21,322.76 207.84,321.45 219.48,321.87 231.11,321.44 242.74,320.73 254.38,321.37 266.01,322.59 277.65,322.43 289.28,320.75 300.91,322.59 312.55,321.03 324.18,321.81 335.82,322.59 347.45,319.82 359.08,322.59 370.72,322.14 382.35,308.03 393.99,320.58 405.62,320.18 417.25,321.88 428.89,319.19 440.52,322.56 452.16,322.57 463.79,322.53 475.42,322.24 487.06,318.94 498.69,323.04 510.33,322.51 521.96,320.84 533.59,322.59 545.23,320.66 556.86,322.59 568.50,322.42 580.13,322.96 591.76,322.51 603.40,322.31 615.03,321.70 626.67,323.05 638.30,322.58 649.93,322.59 661.57,320.45 673.20,317.95 684.84,323.05 696.47,322.57 708.10,319.98 719.74,322.59 731.37,322.59 743.01,310.76" stroke="rgba(0,128,0,0.5)" stroke-width="1"/>
<polyline points="56.60,321.43 68.23,322.37 79.87,321.19 91.50,311.67 103.14,321.22 114.77,322.69 126.40,321.53 138.04,320.80 149.67,322.40 161.31,322.56 172.94,321.01 184.57,320.59 196.21,322.77 207.84,321.71 219.48,322.16 231.11,315.40 242.74,322.59 254.38,321.11 266.01,322.58 277.65,316.81 289.28,322.54 300.91,319.03 312.55,316.78 324.18,322.19 335.82,316.09 347.45,309.04 359.08,322.59 370.72,322.48 382.35,322.59 393.99,319.87 405.62,320.51 417.25,320.19 428.89,319.69 440.52,322.56 452.16,319.59 463.79,322.56 475.42,321.14 487.06,322.03 498.69,322.67 510.33,322.31 521.96,322.58 533.59,319.75 545.23,319.48 556.86,322.02 568.50,321.39 580.13,322.39 591.76,322.91 603.40,322.59 615.03,322.70 626.67,322.87 638.30,322.19 649.93,316.18 661.57,320.91 673.20,321.97 684.84,317.73 696.47,320.04 708.10,319.36 719.74,320.93 731.37,322.59 743.01,319.05" stroke="rgba(0,128,0,0.5)" stroke-width="1"/>
<polyline points="56.60,321.07 68.23,322.27 79.87,321.84 91.50,303.03 103.14,322.54 114.77,322.72 126.40,322.12 138.04,322.66 149.67,322.76 161.31,322.62 172.94,321.66 184.57,321.67 196.21,322.75 207.84,322.92 219.48,322.59 231.11,322.59 242.74,320.81 254.38,321.41 266.01,322.57 277.65,315.31 289.28,318.31 300.91,320.77 312.55,320.24 324.18,322.09 335.82,322.48 347.45,322.08 359.08,319.56 370.72,322.20 382.35,320.65 393.99,322.11 405.62,321.85 417.25,321.03 428.89,322.59 440.52,321.22 452.16,322.06 463.79,322.54 475.42,321.95 487.06,321.84 498.69,317.87 510.33,322.58 521.96,322.17 533.59,322.59 545.23,321.89 556.86,322.59 568.50,321.07 580.13,323.03 591.76,323.02 603.40,322.46 615.03,322.82 626.67,318.04 638.30,322.25 649.93,322.47 661.57,322.57 673.20,323.03 684.84,316.22 696.47,322.49 708.10,320.96 719.74,321.57 731.37,322.59 743.01,321.46" stroke="rgba(0,128,0,0.5)" stroke-width="1"/>
<polyline points="56.60,323.00 68.23,322.54 79.87,317.50 91.50,307.58 103.14,322.39 114.77,322.56 126.40,321.58 138.04,322.46 149.67,322.48 161.31,321.32 172.94,320.86 184.57,305.58 196.21,321.24 207.84,322.75 219.48,322.59 231.11,322.27 242.74,321.84 254.38,319.97 266.01,322.40 277.65,320.15 289.28,321.39 300.91,321.00 312.55,322.44 324.18,322.56 335.82,322.59 347.45,322.26 359.08,322.33 370.72,320.92 382.35,321.53 393.99,314.59 405.62,322.55 417.25,322.13 428.89,322.55 440.52,322.45 452.16,322.04 463.79,320.04 475.42,316.63 487.06,320.77 498.69,323.03 510.33,322.13 521.96,319.82 533.59,321.30 545.23,318.98 556.86,322.59 568.50,322.59 580.13,322.19 591.76,323.04 603.40,316.22 615.03,323.05 626.67,321.26 638.30,322.45 649.93,320.85 661.57,322.39 673.20,320.28 684.84,322.76 696.47,320.45 708.10,322.48 719.74,321.41 731.37,322.56 743.01,321.35" stroke="rgba(0,128,0,0.5)" stroke-width="1"/>
<polyline points="56.60,323.04 68.23,322.57 79.87,315.68 91.50,320.72 103.14,322.35 114.77,321.86 126.40,320.03 138.04,319.86 149.67,322.77 161.31,321.77 172.94,321.67 184.57,320.25 196.21,321.76 207.84,322.48 219.48,322.56 231.11,321.10 242.74,321.57 254.38,322.52 266.01,322.48 277.65,319.76 289.28,322.59 300.91,322.59 312.55,322.51 324.18,315.07 335.82,316.04 347.45,321.88 359.08,312.49 370.72,322.33 382.35,322.59 393.99,322.59 405.62,321.52 417.25,319.32 428.89,320.42 440.52,321.71 452.16,321.73 463.79,319.74 475.42,322.58 487.06,317.27 498.69,321.39 510.33,319.80 521.96,322.56 533.59,322.22 545.23,322.59 556.86,320.76 568.50,322.59 580.13,320.82 591.76,320.49 603.40,322.16 615.03,321.82 626.67,320.82 638.30,321.40 649.93,320.36 661.57,321.93 673.20,322.98 684.84,321.38 696.47,322.31 708.10,322.59 719.74,322.28 731.37,315.31 743.01,321.62" stroke="rgba(0,128,0,0.5)" stroke-width="1"/>
<polyline points="56.60,322.81 68.23,322.58 79.87,321.30 91.50,308.94 103.14,321.49 114.77,322.96 126.40,320.75 138.04,322.75 149.67,322.77 161.31,322.39 172.94,319.57 184.57,320.43 196.21,322.77 207.84,322.90 219.48,322.21 231.11,322.57 242.74,322.31 254.38,322.55 266.01,322.49 277.65,322.57 289.28,321.50 300.91,321.57 312.55,322.59 324.18,310.49 335.82,321.19 347.45,322.59 359.08,320.31 370.72,321.76 382.35,322.18 393.99,317.13 405.62,322.59 417.25,321.70 428.89,322.17 440.52,322.56 452.16,322.59 463.79,322.56 475.42,322.38 487.06,322.72 498.69,320.09 510.33,319.62 521.96,322.45 533.59,322.13 545.23,319.06 556.86,320.07 568.50,321.83 580.13,320.99 591.76,322.79 603.40,322.46 615.03,322.98 626.67,321.12 638.30,320.20 649.93,320.26 661.57,322.51 673.20,321.99 684.84,319.87 696.47,322.07 708.10,322.57 719.74,322.30 731.37,322.23 743.01,319.12" stroke="rgba(0,128,0,0.5)" stroke-width="1"/>
<polyline points="56.60,323.03 68.23,320.85 79.87,322.11 91.50,320.09 103.14,322.59 114.77,323.01 126.40,320.34 138.04,320.93 149.67,322.77 161.31,322.67 172.94,321.68 184.57,310.95 196.21,322.77 207.84,322.83 219.48,322.36 231.11,321.18 242.74,320.29 254.38,322.53 266.01,322.56 277.65,322.53 289.28,322.18 300.91,322.59 312.55,322.56 324.18,322.59 335.82,322.21 347.45,320.04 359.08,322.44 370.72,322.57 382.35,321.44 393.99,321.10 405.62,322.59 417.25,319.64 428.89,322.59 440.52,317.43 452.16,318.94 463.79,322.54 475.42,320.27 487.06,321.62 498.69,318.71 510.33,322.32 521.96,322.59 533.59,321.57 545.23,322.16 556.86,306.03 568.50,322.44 580.13,321.24 591.76,322.69 603.40,321.84 615.03,320.76 626.67,323.05 638.30,322.28 649.93,322.51 661.57,320.99 673.20,322.58 684.84,319.93 696.47,321.99 708.10,322.55 719.74,320.55 731.37,320.63 743.01,314.40" stroke="rgba(0,128,0,0.5)" stroke-width="1"/>
<polyline points="56.60,322.98 68.23,322.77 79.87,319.27 91.50,320.76 103.14,322.23 114.77,322.86 126.40,322.13 138.04,322.66 149.67,322.77 161.31,322.77 172.94,321.68 184.57,312.49 196.21,322.60 207.84,322.57 219.48,322.36 231.11,320.82 242.74,322.58 254.38,322.59 266.01,322.33 277.65,321.67 289.28,321.64 300.91,320.42 312.55,322.16 324.18,313.49 335.82,315.19 347.45,321.75 359.08,316.26 370.72,319.71 382.35,322.40 393.99,322.59 405.62,321.86 417.25,322.02 428.89,319.63 440.52,322.59 452.16,322.41 463.79,322.27 475.42,322.59 487.06,321.13 498.69,323.04 510.33,319.49 521.96,320.09 533.59,314.92 545.23,321.73 556.86,322.36 568.50,320.77 580.13,322.64 591.76,320.59 603.40,321.59 615.03,322.49 626.67,323.05 638.30,320.88 649.93,322.02 661.57,322.49 673.20,314.53 684.84,323.00 696.47,322.36 708.10,319.24 719.74,315.93 731.37,322.51 743.01,318.79" stroke="rgba(0,128,0,0.5)" stroke-width="1"/>
<polyline points="56.60,321.75 68.23,322.64 79.87,320.16 91.50,320.75 103.14,322.59 114.77,322.99 126.40,322.05 138.04,322.21 149.67,322.66 161.31,322.40 172.94,321.59 184.57,320.15 196.21,322.49 207.84,323.04 219.48,322.56 231.11,322.02 242.74,320.30 254.38,319.85 266.01,322.04 277.65,314.04 289.28,322.59 300.91,321.93 312.55,320.13 324.18,321.47 335.82,322.11 347.45,322.40 359.08,322.28 370.72,322.45 382.35,322.00 393.99,321.33 405.62,322.56 417.25,320.83 428.89,315.06 440.52,316.29 452.16,322.45 463.79,322.14 475.42,322.43 487.06,318.04 498.69,320.87 510.33,322.59 521.96,322.33 533.59,321.42 545.23,321.20 556.86,321.75 568.50,322.55 580.13,322.98 591.76,322.86 603.40,322.59 615.03,322.84 626.67,320.89 638.30,320.54 649.93,322.40 661.57,322.56 673.20,321.86 684.84,322.89 696.47,321.21 708.10,316.98 719.74,319.89 731.37,322.01 743.01,318.97" stroke="rgba(0,128,0,0.5)" stroke-width="1"/>
<polyline points="56.60,322.31 68.23,322.07 79.87,321.22 91.50,319.03 103.14,322.11 114.77,322.96 126.40,322.13 138.04,321.00 149.67,322.63 161.31,322.76 172.94,321.65 184.57,320.93 196.21,322.39 207.84,322.84 219.48,316.22 231.11,320.17 242.74,322.39 254.38,322.43 266.01,322.54 277.65,322.33 289.28,317.48 300.91,322.54 312.55,322.44 324.18,322.54 335.82,319.65 347.45,313.04 359.08,322.58 370.72,322.29 382.35,322.55 393.99,322.28 405.62,320.17 417.25,322.08 428.89,322.58 440.52,320.04 452.16,320.60 463.79,322.59 475.42,322.12 487.06,320.61 498.69,322.74 510.33,321.66 521.96,321.90 533.59,322.59 545.23,322.59 556.86,322.49 568.50,322.50 580.13,321.56 591.76,322.90 603.40,322.10 615.03,322.95 626.67,321.67 638.30,318.76 649.93,319.69 661.57,316.31 673.20,323.03 684.84,322.98 696.47,316.19 708.10,316.32 719.74,322.33 731.37,313.04 743.01,319.93" stroke="rgba(0,128,0,0.5)" stroke-width="1"/>
<polyline points="56.60,322.23 68.23,322.76 79.87,321.88 91.50,319.49 103.14,322.47 114.77,323.02 126.40,321.85 138.04,321.87 149.67,322.38 161.31,322.25 172.94,321.62 184.57,319.13 196.21,322.66 207.84,323.02 219.48,322.53 231.11,321.94 242.74,321.36 254.38,321.33 266.01,322.52 277.65,312.04 289.28,322.34 300.91,322.24 312.55,322.57 324.18,319.28 335.82,322.57 347.45,322.09 359.08,322.59 370.72,318.50 382.35,321.00 393.99,320.43 405.62,322.07 417.25,315.27 428.89,322.38 440.52,322.59 452.16,322.25 463.79,321.77 475.42,322.33 487.06,322.21 498.69,322.06 510.33,322.57 521.96,322.58 533.59,322.48 545.23,322.59 556.86,312.49 568.50,322.24 580.13,322.08 591.76,322.19 603.40,322.11 615.03,323.01 626.67,321.80 638.30,314.77 649.93,312.58 661.57,322.35 673.20,318.81 684.84,322.37 696.47,320.71 708.10,321.98 719.74,320.71 731.37,322.21 743.01,320.98" stroke="rgba(0,128,0,0.5)" stroke-width="1"/>
<polyline points="56.60,322.26 68.23,322.77 79.87,320.96 91.50,319.82 103.14,322.56 114.77,323.01 126.40,322.13 138.04,320.70 149.67,322.67 161.31,322.54 172.94,321.67 184.57,321.63 196.21,322.76 207.84,323.04 219.48,321.93 231.11,317.50 242.74,321.41 254.38,320.47 266.01,321.75 277.65,322.57 289.28,322.54 300.91,321.49 312.55,322.59 324.18,314.87 335.82,322.41 347.45,320.15 359.08,321.85 370.72,322.58 382.35,320.48 393.99,322.52 405.62,322.59 417.25,322.13 428.89,322.19 440.52,321.19 452.16,322.59 463.79,322.59 475.42,322.28 487.06,321.34 498.69,321.67 510.33,322.20 521.96,322.59 533.59,321.76 545.23,322.55 556.86,316.53 568.50,321.74 580.13,322.07 591.76,322.20 603.40,322.51 615.03,323.00 626.67,320.12 638.30,319.43 649.93,321.50 661.57,322.23 673.20,321.05 684.84,319.65 696.47,310.49 708.10,322.54 719.74,320.50 731.37,320.50 743.01,321.68" stroke="rgba(0,128,0,0.5)" stroke-width="1"/>
<polyline points="56.60,322.95 68.23,322.51 79.87,321.60 91.50,318.71 103.14,322.59 114.77,322.90 126.40,322.12 138.04,322.74 149.67,322.41 161.31,322.64 172.94,321.65 184.57,314.40 196.21,321.77 207.84,322.46 219.48,322.59 231.11,318.04 242.74,318.04 254.38,322.10 266.01,322.58 277.65,322.12 289.28,322.59 300.91,322.14 312.55,322.48 324.18,314.49 335.82,322.26 347.45,322.18 359.08,322.54 370.72,317.84 382.35,320.82 393.99,322.59 405.62,314.40 417.25,322.14 428.89,322.33 440.52,322.57 452.16,321.55 463.79,321.11 475.42,320.25 487.06,322.85 498.69,321.93 510.33,321.64 521.96,322.59 533.59,322.56 545.23,322.31 556.86,320.92 568.50,298.03 580.13,322.66 591.76,321.74 603.40,322.59 615.03,318.04 626.67,322.46 638.30,317.01 649.93,322.45 661.57,322.24 673.20,322.26 684.84,320.17 696.47,322.17 708.10,321.43 719.74,313.49 731.37,322.58 743.01,321.53" stroke="rgba(0,128,0,0.5)" stroke-width="1"/>
<polyline points="56.60,323.01 68.23,322.57 79.87,321.88 91.50,319.30 103.14,322.59 114.77,323.02 126.40,320.48 138.04,321.39 149.67,322.23 161.31,322.69 172.94,320.88 184.57,317.54 196.21,322.77 207.84,322.92 219.48,322.59 231.11,322.58 242.74,322.59 254.38,321.17 266.01,321.75 277.65,319.33 289.28,319.43 300.91,322.57 312.55,320.66 324.18,322.49 335.82,322.57 347.45,318.06 359.08,317.09 370.72,314.40 382.35,322.59 393.99,322.22 405.62,317.13 417.25,320.92 428.89,321.85 440.52,314.92 452.16,321.91 463.79,322.59 475.42,320.77 487.06,322.33 498.69,316.67 510.33,321.72 521.96,321.95 533.59,322.59 545.23,322.39 556.86,320.34 568.50,321.16 580.13,321.86 591.76,323.00 603.40,317.57 615.03,323.05 626.67,322.16 638.30,321.30 649.93,322.59 661.57,320.04 673.20,322.02 684.84,321.23 696.47,322.43 708.10,321.28 719.74,321.63 731.37,316.48 743.01,321.59" stroke="rgba(0,128,0,0.5)" stroke-width="1"/>
<polyline points="56.60,322.60 68.23,322.24 79.87,319.89 91.50,313.04 103.14,321.67 114.77,323.04 126.40,322.11 138.04,322.38 149.67,322.40 161.31,322.77 172.94,321.00 184.57,319.07 196.21,322.70 207.84,322.14 219.48,322.52 231.11,322.59 242.74,319.88 254.38,316.86 266.01,322.20 277.65,321.34 289.28,322.52 300.91,320.69 312.55,321.90 324.18,320.18 335.82,321.16 347.45,319.80 359.08,321.86 370.72,320.77 382.35,322.28 393.99,320.84 405.62,321.58 417.25,322.01 428.89,322.56 440.52,322.59 452.16,322.20 463.79,320.95 475.42,321.60 487.06,321.94 498.69,320.89 510.33,315.02 521.96,322.45 533.59,322.37 545.23,318.94 556.86,322.59 568.50,320.67 580.13,321.95 591.76,322.19 603.40,321.09 615.03,320.39 626.67,321.87 638.30,322.13 649.93,321.54 661.57,318.31 673.20,322.51 684.84,323.04 696.47,322.16 708.10,317.65 719.74,314.87 731.37,322.46 743.01,309.04" stroke="rgba(0,128,0,0.5)" stroke-width="1"/>
<polyline points="56.60,323.05 68.23,322.71 79.87,322.11 91.50,320.59 103.14,322.58 114.77,323.01 126.40,321.13 138.04,320.41 149.67,322.77 161.31,322.77 172.94,321.62 184.57,321.13 196.21,322.77 207.84,322.98 219.48,322.58 231.11,322.55 242.74,322.37 254.38,320.08 266.01,321.28 277.65,322.59 289.28,321.27 300.91,322.59 312.55,322.09 324.18,322.21 335.82,322.19 347.45,322.53 359.08,321.98 370.72,322.16 382.35,322.55 393.99,321.32 405.62,322.56 417.25,310.04 428.89,320.59 440.52,322.23 452.16,322.59 463.79,322.52 475.42,322.36 487.06,323.04 498.69,321.18 510.33,321.98 521.96,321.52 533.59,321.75 545.23,321.50 556.86,322.58 568.50,322.51 580.13,319.86 591.76,323.02 603.40,319.98 615.03,322.92 626.67,321.78 638.30,319.63 649.93,322.13 661.57,322.59 673.20,322.67 684.84,312.58 696.47,322.20 708.10,322.34 719.74,322.57 731.37,317.27 743.01,319.61" stroke="rgba(0,128,0,0.5)" stroke-width="1"/>
<polyline points="56.60,323.05 68.23,322.77 79.87,321.27 91.50,318.18 103.14,320.98 114.77,323.04 126.40,322.08 138.04,320.96 149.67,322.74 161.31,322.63 172.94,321.68 184.57,321.45 196.21,322.60 207.84,320.84 219.48,321.41 231.11,322.56 242.74,322.39 254.38,322.54 266.01,321.38 277.65,318.07 289.28,322.19 300.91,321.88 312.55,322.18 324.18,322.52 335.82,319.60 347.45,321.38 359.08,319.12 370.72,321.74 382.35,322.07 393.99,319.94 405.62,322.30 417.25,321.82 428.89,321.40 440.52,321.51 452.16,321.36 463.79,322.19 475.42,322.51 487.06,322.91 498.69,320.73 510.33,315.53 521.96,321.96 533.59,320.74 545.23,322.59 556.86,318.25 568.50,320.28 580.13,321.35 591.76,322.50 603.40,322.48 615.03,322.96 626.67,320.15 638.30,322.59 649.93,319.40 661.57,321.88 673.20,323.03 684.84,322.90 696.47,319.10 708.10,322.58 719.74,322.36 731.37,319.54 743.01,320.93" stroke="rgba(0,128,0,0.5)" stroke-width="1"/>
<polyline points="56.60,322.68 68.23,322.46 79.87,317.50 91.50,304.76 103.14,320.50 114.77,322.98 126.40,321.72 138.04,322.31 149.67,322.70 161.31,322.54 172.94,319.41 184.57,313.22 196.21,321.68 207.84,322.57 219.48,322.40 231.11,321.94 242.74,321.60 254.38,321.96 266.01,319.86 277.65,312.58 289.28,317.13 300.91,321.80 312.55,321.81 324.18,321.83 335.82,321.83 347.45,321.80 359.08,321.49 370.72,321.99 382.35,321.75 393.99,318.95 405.62,319.86 417.25,317.13 428.89,319.86 440.52,321.96 452.16,321.71 463.79,321.91 475.42,321.97 487.06,322.33 498.69,321.75 510.33,321.25 521.96,322.17 533.59,321.47 545.23,321.60 556.86,319.41 568.50,319.86 580.13,322.10 591.76,322.70 603.40,321.87 615.03,322.67 626.67,322.34 638.30,321.40 649.93,321.66 661.57,321.86 673.20,322.26 684.84,321.88 696.47,321.99 708.10,321.68 719.74,321.38 731.37,322.21 743.01,319.05" stroke="#008000" stroke-width="2"/>
<polyline points="56.60,322.41 68.23,322.23 79.87,321.86 91.50,321.23 103.14,322.14 114.77,322.77 126.40,322.41 138.04,322.77 149.67,323.05 161.31,322.77 172.94,322.14 184.57,321.04 196.21,322.59 207.84,322.77 219.48,322.77 231.11,322.59 242.74,322.59 254.38,320.50 266.01,316.50 277.65,322.59 289.28,322.77 300.91,322.77 312.55,322.77 324.18,322.14 335.82,322.77 347.45,320.50 359.08,317.04 370.72,320.04 382.35,322.04 393.99,322.59 405.62,322.77 417.25,322.77 428.89,322.77 440.52,322.77 452.16,322.77 463.79,322.59 475.42,322.41 487.06,322.14 498.69,322.04 510.33,312.49 521.96,311.49 533.59,322.04 545.23,322.59 556.86,315.49 568.50,320.04 580.13,322.59 591.76,318.04 603.40,315.49 615.03,320.04 626.67,319.04 638.30,319.04 649.93,302.49 661.57,320.04 673.20,323.05 684.84,320.04 696.47,314.49 708.10,323.05 719.74,323.05 731.37,323.05 743.01,323.05" stroke="#000" stroke-width="2" stroke-dasharray="6,2" stroke-linecap="butt"/>
<polyline points="56.60,321.04 68.23,320.50 79.87,320.13 91.50,316.04 103.14,321.59 114.77,322.04 126.40,319.41 138.04,322.04 149.67,322.50 161.31,321.68 172.94,320.04 184.57,315.77 196.21,321.68 207.84,322.14 219.48,322.14 231.11,322.14 242.74,322.14 254.38,321.50 266.01,308.31 277.65,321.77 289.28,322.14 300.91,322.14 312.55,322.14 324.18,320.50 335.82,322.04 347.45,321.86 359.08,321.77 370.72,321.04 382.35,319.04 393.99,321.50 405.62,322.14 417.25,322.14 428.89,322.14 440.52,322.14 452.16,322.14 463.79,321.68 475.42,319.50 487.06,318.04 498.69,321.50 510.33,317.50" stroke="#ff0000" stroke-width="2.5"/>
<polyline points="56.60,321.23 68.23,320.77 79.87,320.13 91.50,316.04 103.14,321.59 114.77,322.23 126.40,319.86 138.04,322.14 149.67,322.41 161.31,322.41 172.94,320.32 184.57,318.95 196.21,321.86 207.84,322.41 219.48,322.41 231.11,322.41 242.74,322.41 254.38,322.41 266.01,322.41 277.65,322.41 289.28,322.41 300.91,322.41 312.55,322.41 324.18,322.41 335.82,322.41 347.45,322.41 359.08,322.41 370.72,322.41 382.35,322.41 393.99,322.41 405.62,322.41 417.25,322.41 428.89,322.41 440.52,322.41 452.16,322.41 463.79,322.41 475.42,322.41 487.06,322.41 498.69,322.41 510.33,322.41 521.96,322.41 533.59,322.41 545.23,322.41 556.86,322.41 568.50,322.41 580.13,322.41 591.76,322.41 603.40,322.41 615.03,322.41 626.67,322.41 638.30,322.41 649.93,322.41 661.57,322.41 673.20,322.41 684.84,322.41 696.47,322.41 708.10,322.41 719.74,322.41 731.37,322.41 743.01,322.41" stroke="#a00a0a" stroke-width="2" stroke-dasharray="6,2" stroke-linecap="butt"/>
</g>
<rect x="50" y="323" width="700" height="1" fill="#ccd6eb"/>
<rect x="66.80" y="323" width="1" height="10" fill="#ccd6eb"/>
<text x="68.10" y="342.00" font-size="11.33" fill="#6c6c6c" textLength="17.46" lengthAdjust="spacingAndGlyphs">ma</text>
<text x="68.10" y="356.00" font-size="11.33" fill="#6c6c6c" textLength="31.96" lengthAdjust="spacingAndGlyphs">24-07</text>
<rect x="113.40" y="323" width="1" height="10" fill="#ccd6eb"/>
<text x="114.70" y="342.00" font-size="11.33" fill="#6c6c6c" textLength="10.04" lengthAdjust="spacingAndGlyphs">di</text>
<text x="114.70" y="356.00" font-size="11.33" fill="#6c6c6c" textLength="31.96" lengthAdjust="spacingAndGlyphs">25-07</text>
<rect x="160.00" y="323" width="1" height="10" fill="#ccd6eb"/>
<text x="161.30" y="342.00" font-size="11.33" fill="#6c6c6c" textLength="15.73" lengthAdjust="spacingAndGlyphs">wo</text>
<text x="161.30" y="356.00" font-size="11.33" fill="#6c6c6c" textLength="31.96" lengthAdjust="spacingAndGlyphs">26-07</text>
<rect x="206.60" y="323" width="1" height="10" fill="#ccd6eb"/>
<text x="207.90" y="342.00" font-size="11.33" fill="#6c6c6c" textLength="13.71" lengthAdjust="spacingAndGlyphs">do</text>
<text x="207.90" y="356.00" font-size="11.33" fill="#6c6c6c" textLength="31.96" lengthAdjust="spacingAndGlyphs">27-07</text>
<rect x="253.20" y="323" width="1" height="10" fill="#ccd6eb"/>
<text x="254.50" y="342.00" font-size="11.33" fill="#6c6c6c" textLength="11.03" lengthAdjust="spacingAndGlyphs">vr</text>
<text x="254.50" y="356.00" font-size="11.33" fill="#6c6c6c" textLength="31.96" lengthAdjust="spacingAndGlyphs">28-07</text>
<rect x="299.80" y="323" width="1" height="10" fill="#ccd6eb"/>
<text x="301.10" y="342.00" font-size="11.33" fill="#6c6c6c" textLength="12.51" lengthAdjust="spacingAndGlyphs">za</text>
<text x="301.10" y="356.00" font-size="11.33" fill="#6c6c6c" textLength="31.96" lengthAdjust="spacingAndGlyphs">29-07</text>
<rect x="346.40" y="323" width="1" height="10" fill="#ccd6eb"/>
<text x="347.70" y="342.00" font-size="11.33" fill="#6c6c6c" textLength="12.50" lengthAdjust="spacingAndGlyphs">zo</text>
<text x="347.70" y="356.00" font-size="11.33" fill="#6c6c6c" textLength="31.96" lengthAdjust="spacingAndGlyphs">30-07</text>
<rect x="393.00" y="323" width="1" height="10" fill="#ccd6eb"/>
<text x="394.30" y="342.00" font-size="11.33" fill="#6c6c6c" textLength="17.46" lengthAdjust="spacingAndGlyphs">ma</text>
<text x="394.30" y="356.00" font-size="11.33" fill="#6c6c6c" textLength="31.96" lengthAdjust="spacingAndGlyphs">31-07</text>
<rect x="439.60" y="323" width="1" height="10" fill="#ccd6eb"/>
<text x="440.90" y="342.00" font-size="11.33" fill="#6c6c6c" textLength="10.04" lengthAdjust="spacingAndGlyphs">di</text>
<text x="440.90" y="356.00" font-size="11.33" fill="#6c6c6c" textLength="31.96" lengthAdjust="spacingAndGlyphs">01-08</text>
<rect x="486.20" y="323" width="1" height="10" fill="#ccd6eb"/>
<text x="487.50" y="342.00" font-size="11.33" fill="#6c6c6c" textLength="15.73" lengthAdjust="spacingAndGlyphs">wo</text>
<text x="487.50" y="356.00" font-size="11.33" fill="#6c6c6c" textLength="31.96" lengthAdjust="spacingAndGlyphs">02-08</text>
<rect x="532.80" y="323" width="1" height="10" fill="#ccd6eb"/>
<text x="534.10" y="342.00" font-size="11.33" fill="#6c6c6c" textLength="13.71" lengthAdjust="spacingAndGlyphs">do</text>
<text x="534.10" y="356.00" font-size="11.33" fill="#6c6c6c" textLength="31.96" lengthAdjust="spacingAndGlyphs">03-08</text>
<rect x="579.40" y="323" width="1" height="10" fill="#ccd6eb"/>
<text x="580.70" y="342.00" font-size="11.33" fill="#6c6c6c" textLength="11.03" lengthAdjust="spacingAndGlyphs">vr</text>
<text x="580.70" y="356.00" font-size="11.33" fill="#6c6c6c" textLength="31.96" lengthAdjust="spacingAndGlyphs">04-08</text>
<rect x="626.00" y="323" width="1" height="10" fill="#ccd6eb"/>
<text x="627.30" y="342.00" font-size="11.33" fill="#6c6c6c" textLength="12.51" lengthAdjust="spacingAndGlyphs">za</text>
<text x="627.30" y="356.00" font-size="11.33" fill="#6c6c6c" textLength="31.96" lengthAdjust="spacingAndGlyphs">05-08</text>
<rect x="672.60" y="323" width="1" height="10" fill="#ccd6eb"/>
<text x="673.90" y="342.00" font-size="11.33" fill="#6c6c6c" textLength="12.50" lengthAdjust="spacingAndGlyphs">zo</text>
<text x="673.90" y="356.00" font-size="11.33" fill="#6c6c6c" textLength="31.96" lengthAdjust="spacingAndGlyphs">06-08</text>
<rect x="719.20" y="323" width="1" height="10" fill="#ccd6eb"/>
<text x="720.50" y="342.00" font-size="11.33" fill="#6c6c6c" textLength="17.46" lengthAdjust="spacingAndGlyphs">ma</text>
<text x="720.50" y="356.00" font-size="11.33" fill="#6c6c6c" textLength="31.96" lengthAdjust="spacingAndGlyphs">07-08</text>
<text x="311.99" y="24.30" font-size="18.54" fill="#3d3d3d" textLength="176.01" lengthAdjust="spacingAndGlyphs">CAPE/Onweer (J/kg)</text>
<text x="261.29" y="45.90" font-size="12.36" fill="#6c6c6c" textLength="276.62" lengthAdjust="spacingAndGlyphs">De Bilt, zondag 23 juli 2023 (Versie zo 12 uur)</text>
<rect x="115" y="378" width="16" height="2" fill="#b3d9b3"/>
<text x="135.60" y="383.10" font-size="12.36" fill="#3a3a3a" textLength="95.17" lengthAdjust="spacingAndGlyphs">Verstoorde runs</text>
<line x1="242" y1="379" x2="258" y2="379" stroke="#000" stroke-width="2" stroke-dasharray="6,2" stroke-linecap="butt"/>
<text x="262.70" y="383.10" font-size="12.36" fill="#3a3a3a" textLength="50.76" lengthAdjust="spacingAndGlyphs">Controle</text>
<rect x="324" y="378" width="16" height="2" fill="#ff0000"/>
<text x="344.60" y="383.10" font-size="12.36" fill="#3a3a3a" textLength="87.19" lengthAdjust="spacingAndGlyphs">Hoge resolutie</text>
<line x1="442" y1="379" x2="458" y2="379" stroke="#a00a0a" stroke-width="2" stroke-dasharray="6,2" stroke-linecap="butt"/>
<text x="462.40" y="383.10" font-size="12.36" fill="#3a3a3a" textLength="93.67" lengthAdjust="spacingAndGlyphs">Middelste (P50)</text>
<rect x="567" y="378" width="16" height="2" fill="#008000"/>
<text x="587.80" y="383.10" font-size="12.36" fill="#3a3a3a" textLength="95.17" lengthAdjust="spacingAndGlyphs">Verstoorde runs</text>
<text x="703.32" y="394.70" font-size="9.27" fill="#999" textLength="86.68" lengthAdjust="spacingAndGlyphs">Bron: ECMWF/KNMI</text>
<rect x="0" y="0" width="800" height="1" fill="#96bcee"/>
<rect x="0" y="0" width="1" height="400" fill="#96bcee"/>
<rect x="798" y="0" width="1" height="399" fill="#a8ccf8"/>
<rect x="0" y="398" width="799" height="1" fill="#a8ccf8"/>
<rect x="799" y="0" width="1" height="400" fill="#000"/>
<rect x="0" y="399" width="800" height="1" fill="#000"/>
</svg></body></html>
